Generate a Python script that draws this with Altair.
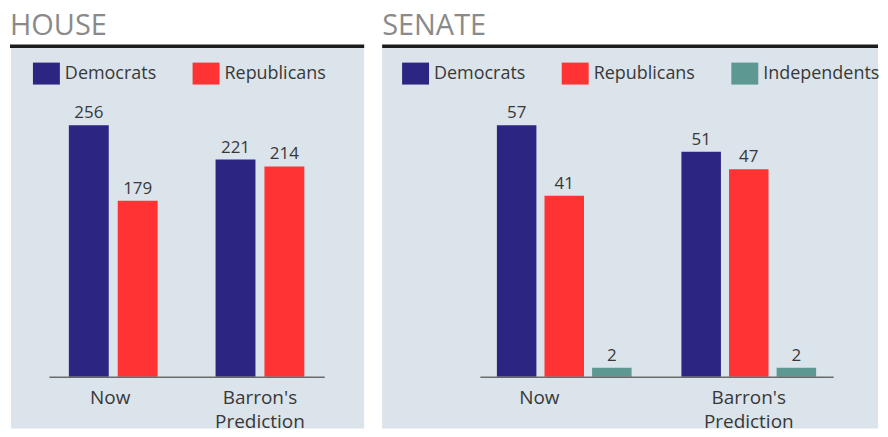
import altair as alt
import pandas as pd

# ---------------- data ----------------
categories = ["Now", "Barron's Prediction"]

house_parties = ["Democrats", "Republicans"]
house_democrats = [256, 221]
house_republicans = [179, 214]

senate_parties = ["Democrats", "Republicans", "Independents"]
senate_democrats = [57, 51]
senate_republicans = [41, 47]
senate_independents = [2, 2]

party_colors = {"Democrats": "#2b2682", "Republicans": "#ff3333", "Independents": "#5e9892"}

FONT = "Open Sans"
BG = "#dbe4eb"
TEXT = "#383838"
PANEL_H = 421


def make_df(parties, series):
    rows = []
    for p, vals in zip(parties, series):
        for c, v in zip(categories, vals):
            rows.append({"category": c, "party": p, "seats": v})
    return pd.DataFrame(rows)


def panel(title, df, parties, width, bg_x, x_range, pad_inner, pad_outer, off_pad,
          ymax, legend_x, now_dx):
    one = pd.DataFrame({"k": [0]})
    cat_df = pd.DataFrame({"category": categories})

    x_enc = alt.X(
        "category:N", sort=categories,
        scale=alt.Scale(domain=categories, range=x_range,
                        paddingInner=pad_inner, paddingOuter=pad_outer),
        axis=alt.Axis(labels=False, ticks=False, title=None, grid=False, zindex=1,
                      domain=True, domainColor="#6a6a6a", domainWidth=1.5,
                      domainCap="butt", offset=-(PANEL_H - 369)),
    )
    xo = alt.XOffset("party:N", sort=parties,
                     scale=alt.Scale(domain=parties, paddingInner=off_pad, paddingOuter=0))
    y_enc = alt.Y("seats:Q", scale=alt.Scale(domain=[0, ymax], range=[369, 117], nice=False),
                  axis=None)

    bg = alt.Chart(one).mark_rect(color=BG).encode(
        x=alt.value(bg_x), x2=alt.value(width), y=alt.value(39.5), y2=alt.value(PANEL_H))
    rule = alt.Chart(one).mark_rect(color="#1c1c1c").encode(
        x=alt.value(0), x2=alt.value(width), y=alt.value(36), y2=alt.value(39.5))
    ttl = alt.Chart(one).mark_text(
        text=title, align="left", baseline="alphabetic", font=FONT, fontSize=29,
        color="#8a8a8a").encode(x=alt.value(0), y=alt.value(27))

    bars = alt.Chart(df).mark_bar().encode(
        x=x_enc, xOffset=xo, y=y_enc,
        color=alt.Color(
            "party:N", sort=parties,
            scale=alt.Scale(domain=parties, range=[party_colors[p] for p in parties]),
            legend=alt.Legend(
                orient="none", legendX=legend_x, legendY=51.5, direction="horizontal",
                title=None, symbolType="M-1,-0.815H1V0.815H-1Z", symbolSize=729,
                symbolStrokeWidth=0, symbolOpacity=1, labelFont=FONT, labelFontSize=18,
                labelColor=TEXT, labelOffset=5, columnPadding=36, padding=0,
                labelLimit=400),
        ),
    )
    values = alt.Chart(df).mark_text(
        baseline="alphabetic", dy=-7, font=FONT, fontSize=17, color=TEXT).encode(
        x=x_enc, xOffset=xo, y=y_enc, text="seats:Q")

    lab_now = alt.Chart(cat_df).transform_filter("datum.category == 'Now'").mark_text(
        baseline="alphabetic", lineBreak=" ", lineHeight=24, dx=now_dx, font=FONT,
        fontSize=19, color=TEXT).encode(x=x_enc, y=alt.value(396), text="category:N")
    lab_other = alt.Chart(cat_df).transform_filter("datum.category != 'Now'").mark_text(
        baseline="alphabetic", lineBreak=" ", lineHeight=24, font=FONT,
        fontSize=19, color=TEXT).encode(x=x_enc, y=alt.value(396), text="category:N")

    return alt.layer(bg, rule, ttl, bars, values, lab_now, lab_other).properties(
        width=width, height=PANEL_H)


house = panel("HOUSE", make_df(house_parties, [house_democrats, house_republicans]),
              house_parties, 355, 1, [39, 315], 0.395, 0.136, 0.184, 256, 23, -3)
senate = panel("SENATE",
               make_df(senate_parties, [senate_democrats, senate_republicans, senate_independents]),
               senate_parties, 497, 0, [98, 452], 0.270, 0.092, 0.17, 57, 20, -25)

chart = alt.hconcat(house, senate, spacing=18).resolve_scale(
    x="independent", y="independent", color="independent", xOffset="independent"
).resolve_legend(color="independent").properties(
    padding={"left": 2, "top": 0, "right": 0, "bottom": 0}
).configure_view(stroke=None)

chart.save("out.html", embed_options={"renderer": "svg", "actions": False})
